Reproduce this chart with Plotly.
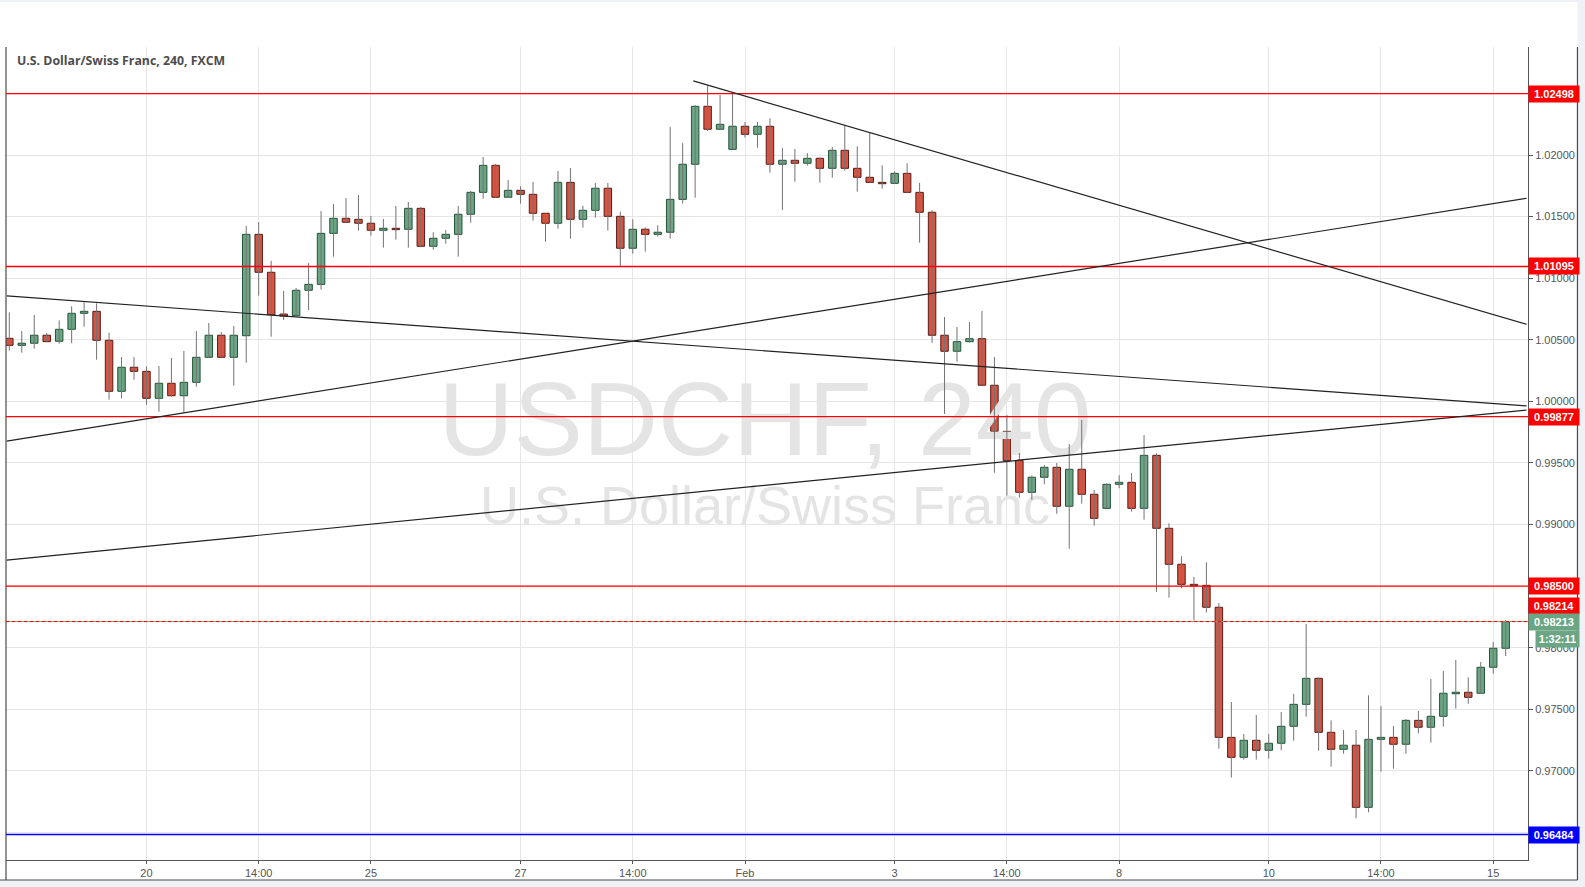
import plotly.graph_objects as go

# ---------------- data (USD/CHF, 4h candles, FXCM) ----------------
candle_idx = list(range(121))
opens = [1.00512, 1.00455, 1.00472, 1.00537, 1.00488, 1.00585, 1.00715, 1.00731, 1.00496, 1.00082,
         1.00277, 1.00244, 1.00025, 1.00147, 1.00046, 1.00155, 1.00358, 1.00537, 1.00358, 1.00533,
         1.01356, 1.01048, 1.00709, 1.00696, 1.00902, 1.00950, 1.01364, 1.01486, 1.01478, 1.01446,
         1.01389, 1.01405, 1.01397, 1.01567, 1.01259, 1.01324, 1.01356, 1.01519, 1.01697, 1.01916,
         1.01657, 1.01713, 1.01681, 1.01527, 1.01446, 1.01778, 1.01478, 1.01551, 1.01730, 1.01502,
         1.01243, 1.01397, 1.01356, 1.01373, 1.01640, 1.01925, 1.02395, 1.02209, 1.02046, 1.02233,
         1.02168, 1.02233, 1.01925, 1.01957, 1.01933, 1.01973, 1.01892, 1.02038, 1.01892, 1.01819,
         1.01778, 1.01770, 1.01851, 1.01697, 1.01535, 1.00537, 1.00407, 1.00485, 1.00509, 1.00131,
         0.99757, 0.99519, 0.99262, 0.99384, 0.99465, 0.99149, 0.99449, 0.99246, 0.99132, 0.99327,
         0.99343, 0.99132, 0.99562, 0.98970, 0.98678, 0.98515, 0.98507, 0.98329, 0.97273, 0.97111,
         0.97249, 0.97168, 0.97225, 0.97363, 0.97541, 0.97752, 0.97314, 0.97176, 0.97209, 0.96705,
         0.97257, 0.97273, 0.97217, 0.97411, 0.97355, 0.97444, 0.97627, 0.97639, 0.97631, 0.97842,
         0.97996]
highs = [1.00723, 1.00571, 1.00701, 1.00555, 1.00658, 1.00772, 1.00804, 1.00796, 1.00558, 1.00360,
         1.00360, 1.00285, 1.00287, 1.00352, 1.00409, 1.00571, 1.00636, 1.00563, 1.00612, 1.01424,
         1.01456, 1.01140, 1.00896, 1.00920, 1.01123, 1.01545, 1.01602, 1.01651, 1.01675, 1.01505,
         1.01481, 1.01586, 1.01619, 1.01578, 1.01373, 1.01391, 1.01586, 1.01708, 1.01984, 1.01927,
         1.01797, 1.01746, 1.01781, 1.01527, 1.01870, 1.01894, 1.01588, 1.01773, 1.01773, 1.01540,
         1.01478, 1.01413, 1.01429, 1.02227, 1.02097, 1.02406, 1.02563, 1.02487, 1.02501, 1.02268,
         1.02268, 1.02298, 1.02057, 1.02049, 1.02016, 1.01981, 1.02065, 1.02241, 1.02071, 1.02184,
         1.01916, 1.01868, 1.01933, 1.01773, 1.01551, 1.00685, 1.00604, 1.00644, 1.00734, 1.00360,
         0.99890, 0.99581, 0.99400, 0.99484, 0.99500, 0.99654, 0.99849, 0.99281, 0.99335, 0.99400,
         0.99419, 0.99727, 0.99579, 0.99011, 0.98743, 0.98575, 0.98694, 0.98364, 0.97560, 0.97300,
         0.97455, 0.97300, 0.97479, 0.97625, 0.98193, 0.97760, 0.97411, 0.97333, 0.97333, 0.97614,
         0.97527, 0.97365, 0.97422, 0.97487, 0.97747, 0.97812, 0.97901, 0.97760, 0.97885, 0.98047,
         0.98226]
lows = [1.00412, 1.00395, 1.00428, 1.00480, 1.00468, 1.00472, 1.00606, 1.00338, 1.00014, 1.00025,
        1.00176, 0.99973, 0.99916, 1.00038, 0.99908, 1.00119, 1.00358, 1.00358, 1.00127, 1.00314,
        1.00858, 1.00525, 1.00661, 1.00696, 1.00742, 1.00907, 1.01175, 1.01454, 1.01386, 1.01345,
        1.01248, 1.01313, 1.01248, 1.01251, 1.01231, 1.01280, 1.01175, 1.01450, 1.01645, 1.01657,
        1.01657, 1.01605, 1.01467, 1.01296, 1.01402, 1.01321, 1.01410, 1.01491, 1.01386, 1.01093,
        1.01199, 1.01215, 1.01337, 1.01321, 1.01605, 1.01653, 1.02195, 1.02209, 1.02046, 1.02140,
        1.02059, 1.01856, 1.01554, 1.01783, 1.01913, 1.01775, 1.01816, 1.01873, 1.01702, 1.01778,
        1.01726, 1.01770, 1.01697, 1.01288, 1.00476, 0.99898, 1.00322, 1.00476, 1.00131, 0.99421,
        0.99235, 0.99218, 0.99202, 0.99327, 0.99088, 0.98804, 0.99170, 0.98991, 0.99132, 0.99295,
        0.99105, 0.99040, 0.98455, 0.98407, 0.98483, 0.98222, 0.98286, 0.97181, 0.96946, 0.97092,
        0.97092, 0.97100, 0.97168, 0.97246, 0.97441, 0.97165, 0.97035, 0.97140, 0.96616, 0.96665,
        0.96994, 0.97019, 0.97140, 0.97306, 0.97230, 0.97360, 0.97506, 0.97546, 0.97631, 0.97790,
        0.97933]
closes = [1.00455, 1.00472, 1.00537, 1.00485, 1.00585, 1.00715, 1.00731, 1.00496, 1.00082, 1.00277,
          1.00244, 1.00025, 1.00147, 1.00046, 1.00155, 1.00358, 1.00537, 1.00358, 1.00537, 1.01356,
          1.01048, 1.00704, 1.00693, 1.00902, 1.00950, 1.01364, 1.01486, 1.01454, 1.01446, 1.01389,
          1.01405, 1.01394, 1.01567, 1.01259, 1.01324, 1.01356, 1.01519, 1.01697, 1.01916, 1.01657,
          1.01713, 1.01681, 1.01527, 1.01446, 1.01778, 1.01478, 1.01551, 1.01730, 1.01502, 1.01243,
          1.01397, 1.01356, 1.01373, 1.01640, 1.01925, 1.02395, 1.02209, 1.02249, 1.02233, 1.02168,
          1.02233, 1.01925, 1.01957, 1.01933, 1.01973, 1.01892, 1.02038, 1.01892, 1.01819, 1.01778,
          1.01767, 1.01851, 1.01697, 1.01535, 1.00537, 1.00407, 1.00485, 1.00509, 1.00131, 0.99757,
          0.99519, 0.99262, 0.99384, 0.99465, 0.99149, 0.99449, 0.99246, 0.99051, 0.99327, 0.99343,
          0.99132, 0.99562, 0.98970, 0.98678, 0.98515, 0.98504, 0.98329, 0.97273, 0.97111, 0.97249,
          0.97168, 0.97225, 0.97363, 0.97541, 0.97752, 0.97314, 0.97176, 0.97209, 0.96705, 0.97257,
          0.97273, 0.97217, 0.97411, 0.97355, 0.97444, 0.97631, 0.97639, 0.97598, 0.97842, 0.97996,
          0.98213]

tick_candles = [11, 20, 29, 41, 50, 59, 71, 80, 89, 101, 110, 119]
tick_labels = ["20", "14:00", "25", "27", "14:00", "Feb", "3", "14:00", "8", "10", "14:00", "15"]

red_levels = [1.02498, 1.01095, 0.99877, 0.98500]
blue_level = 0.96484
last_price = 0.98213
ask_price = 0.98214
countdown = "1:32:11"
# trendlines: (candle_start, price_start, candle_end, price_end)
trendlines = [(54.85, 1.02601, 121.68, 1.00626),
              (-0.21, 1.00856, 121.68, 0.99963),
              (-0.21, 0.99677, 121.68, 1.01649),
              (-0.21, 0.98711, 121.68, 0.99930)]

title_text = "U.S. Dollar/Swiss Franc, 240, FXCM"
watermark_main = "USDCHF, 240"
watermark_sub = "U.S. Dollar/Swiss Franc"

# ---------------- styles ----------------
UP_FILL, UP_EDGE = "#6ba583", "#225437"
DN_FILL, DN_EDGE = "#d75442", "#5b1a13"
WICK = "#737375"
GRID = "#e6e6e6"
AXIS = "#555555"
FONT = "Liberation Sans"

fig = go.Figure()

# watermark (behind candles)
fig.add_trace(go.Scatter(x=[60.6], y=[0.99780], mode="text", text=[watermark_main],
                         textfont=dict(family=FONT, size=104, color="#e4e4e4"),
                         hoverinfo="skip", cliponaxis=False))
fig.add_trace(go.Scatter(x=[60.6], y=[0.99114], mode="text", text=[watermark_sub],
                         textfont=dict(family=FONT, size=54, color="#e4e4e4"),
                         hoverinfo="skip", cliponaxis=False))

# wicks
wx, wy = [], []
for i, h, l in zip(candle_idx, highs, lows):
    wx += [i, i, None]
    wy += [l, h, None]
fig.add_trace(go.Scatter(x=wx, y=wy, mode="lines", line=dict(color=WICK, width=1),
                         hoverinfo="skip"))

# bodies
base, height, fills, edges = [], [], [], []
for o, c in zip(opens, closes):
    up = c >= o
    base.append(min(o, c))
    height.append(max(abs(c - o), 0.00002))
    fills.append(UP_FILL if up else DN_FILL)
    edges.append(UP_EDGE if up else DN_EDGE)
fig.add_trace(go.Bar(x=candle_idx, y=height, base=base, width=0.6,
                     marker=dict(color=fills, line=dict(color=edges, width=1)),
                     hoverinfo="skip"))

shapes = []
# white panel + frame (paper coords)
shapes.append(dict(type="rect", xref="paper", yref="paper", x0=-0.0040, x1=1.0325, y0=-0.0246, y1=1.0554,
                   fillcolor="white", line=dict(width=0), layer="below"))
for x0, y0, x1, y1 in [(1.0325, 1.0, 1.0325, -0.0246), (-0.0040, -0.0246, 1.0325, -0.0246),
                       (0.0, 1.0, 0.0, -0.0246)]:
    shapes.append(dict(type="line", xref="paper", yref="paper", x0=x0, y0=y0, x1=x1, y1=y1,
                       line=dict(color="#4a4a4a", width=1.2)))
# horizontal levels
for lv in red_levels:
    shapes.append(dict(type="line", xref="paper", yref="y", x0=0, x1=1, y0=lv, y1=lv,
                       line=dict(color="#ff0000", width=1.3)))
shapes.append(dict(type="line", xref="paper", yref="y", x0=0, x1=1, y0=blue_level, y1=blue_level,
                   line=dict(color="#0000ff", width=1.5)))
shapes.append(dict(type="line", xref="paper", yref="y", x0=0, x1=1, y0=last_price, y1=last_price,
                   line=dict(color=UP_FILL, width=1)))
shapes.append(dict(type="line", xref="paper", yref="y", x0=0, x1=1, y0=last_price, y1=last_price,
                   line=dict(color="#ff0000", width=1, dash="dot")))
# trendlines
for x0, y0, x1, y1 in trendlines:
    shapes.append(dict(type="line", xref="x", yref="y", x0=x0, y0=y0, x1=x1, y1=y1,
                       line=dict(color="#222222", width=1.2)))

annotations = [dict(text="<b>" + title_text + "</b>", xref="paper", yref="paper", x=0.0059, y=0.984,
                    xanchor="left", yanchor="middle", showarrow=False,
                    font=dict(family="Open Sans", size=12.3, color="#4d4d4d"))]


def price_box(val, text, color, yshift=0, x=1.0, w=48):
    return dict(text="<b>" + text + "</b>", xref="paper", yref="y", x=x, y=val, xanchor="left",
                yanchor="middle", showarrow=False, bgcolor=color, width=w, height=14, borderpad=1,
                align="center", yshift=yshift, font=dict(family=FONT, size=11, color="white"))


for lv in red_levels:
    annotations.append(price_box(lv, f"{lv:.5f}", "#ff0000"))
annotations.append(price_box(blue_level, f"{blue_level:.5f}", "#0000ff"))
annotations.append(price_box(last_price, f"{ask_price:.5f}", "#ff0000", yshift=15.5))
annotations.append(price_box(last_price, f"{last_price:.5f}", UP_FILL))
annotations.append(price_box(last_price, countdown, UP_FILL, yshift=-17.5, x=1.0046, w=41))

fig.update_layout(
    width=1585, height=887, autosize=False,
    margin=dict(l=6, r=57, t=47, b=27),
    paper_bgcolor="#eef1f6", plot_bgcolor="white",
    showlegend=False, hovermode=False, barmode="overlay",
    shapes=shapes, annotations=annotations,
    xaxis=dict(range=[-0.265, 121.79], tickmode="array", tickvals=tick_candles, ticktext=tick_labels,
               showgrid=True, gridcolor=GRID, gridwidth=1, zeroline=False,
               ticks="outside", ticklen=3, tickcolor=AXIS, showline=True, linecolor=AXIS, linewidth=1,
               tickfont=dict(family=FONT, size=11, color=AXIS), fixedrange=True),
    yaxis=dict(side="right", range=[0.962775, 1.028766], dtick=0.005, tick0=0.96, tickformat=".5f",
               showgrid=True, gridcolor=GRID, gridwidth=1, zeroline=False,
               ticks="outside", ticklen=4, tickcolor=AXIS, showline=True, linecolor=AXIS, linewidth=1,
               tickfont=dict(family=FONT, size=11, color=AXIS), fixedrange=True),
)

fig.write_html("out.html", config={"displayModeBar": False},
               post_script="document.body.style.margin='0';document.body.style.overflow='hidden';")
